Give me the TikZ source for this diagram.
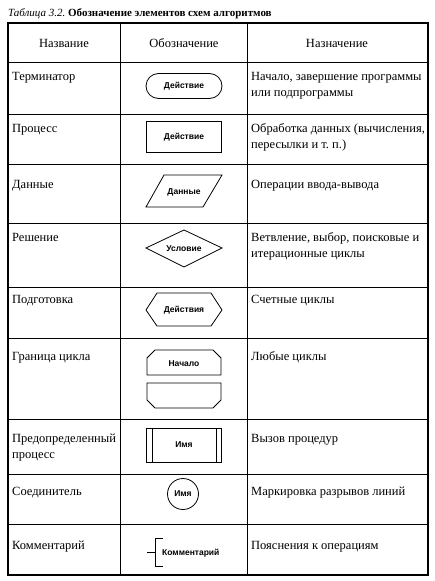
\documentclass[tikz,border=0pt]{standalone}
\usepackage{fontspec}
\setmainfont{Liberation Serif}
\newfontfamily\labfont{Liberation Sans}
\frenchspacing
\begin{document}
\begin{tikzpicture}[x=1pt,y=-1pt,
  gridline/.style={line width=0.7pt},
  framebox/.style={line width=1.1pt},
  shp/.style={line width=0.8pt},
  lbl/.style={font=\labfont\bfseries\fontsize{8.5}{10}\selectfont, inner sep=1pt},
  txt/.style={font=\fontsize{12.5}{16}\selectfont, anchor=base west, align=left, inner sep=0pt},
  hdr/.style={font=\fontsize{12.5}{14}\selectfont, anchor=base, inner sep=0pt}]
\useasboundingbox (0,0) rectangle (434,581);
\fill[white] (0,0) rectangle (434,581);
% title
\node[anchor=base west, inner sep=0pt, font=\fontsize{11}{13}\selectfont] (title) at (8,16)
  {\textit{Таблица 3.2.} \textbf{Обозначение элементов схем алгоритмов}};
% table grid
\draw[framebox] (8,23) rectangle (428,575);
\draw[gridline] (120,23) -- (120,575);
\draw[gridline] (247,23) -- (247,575);
\foreach \yy in {62,114,164,223,287,338,419,474,524}
  \draw[gridline] (8,\yy) -- (428,\yy);
% header
\node[hdr] (h1) at (64,47) {Название};
\node[hdr] (h2) at (184,47) {Обозначение};
\node[hdr] (h3) at (337,47) {Назначение};
% left column
\node[txt] (n1) at (12,80) {Терминатор};
\node[txt] (n2) at (12,132) {Процесс};
\node[txt] (n3) at (12,188) {Данные};
\node[txt] (n4) at (12,241) {Решение};
\node[txt] (n5) at (12,303) {Подготовка};
\node[txt] (n6) at (12,360) {Граница цикла};
\node[txt] (n7) at (12,458) {Предопределенный\\процесс};
\node[txt] (n8) at (12,495) {Соединитель};
\node[txt] (n9) at (12,549) {Комментарий};
% right column
\node[txt] (d1) at (251,96) {Начало, завершение программы\\или подпрограммы};
\node[txt] (d2) at (251,148) {Обработка данных (вычисления,\\пересылки и т. п.)};
\node[txt] (d3) at (251,188) {Операции ввода-вывода};
\node[txt] (d4) at (251,257) {Ветвление, выбор, поисковые и\\итерационные циклы};
\node[txt] (d5) at (251,303) {Счетные циклы};
\node[txt] (d6) at (251,360) {Любые циклы};
\node[txt] (d7) at (251,442) {Вызов процедур};
\node[txt] (d8) at (251,495) {Маркировка разрывов линий};
\node[txt] (d9) at (251,549) {Пояснения к операциям};
% shapes
\node[draw, shp, lbl, rounded corners=12.5pt, minimum width=76pt, minimum height=25pt] (term) at (184,86) {Действие};
\node[draw, shp, lbl, minimum width=75pt, minimum height=31pt] (proc) at (184,137) {Действие};
\draw[shp] (164,175) -- (222,175) -- (203,207) -- (146,207) -- cycle;
\node[lbl] (data) at (184,192) {Данные};
\draw[shp] (146,248) -- (184,230) -- (222,248) -- (184,267) -- cycle;
\node[lbl] (cond) at (184,249) {Условие};
\draw[shp] (146,310) -- (157,293) -- (211,293) -- (222,310) -- (211,326) -- (157,326) -- cycle;
\node[lbl] (prep) at (184,310) {Действия};
\draw[shp] (147,375) -- (147,358) -- (155,350) -- (213,350) -- (221,358) -- (221,375) -- cycle;
\node[lbl] (loopb) at (184,364) {Начало};
\draw[shp] (147,383) -- (221,383) -- (221,400) -- (213,408) -- (155,408) -- (147,400) -- cycle;
\node[draw, shp, lbl, minimum width=75pt, minimum height=34pt] (pred) at (184,445) {Имя};
\draw[shp] (152,428) -- (152,462);
\draw[shp] (216,428) -- (216,462);
\node[draw, shp, lbl, circle, minimum size=31pt, inner sep=0pt] (conn) at (183,494) {Имя};
\coordinate (cm) at (155,552);
\coordinate (cl) at (147,552);
\draw[shp] (163,538) -- (155,538) -- (155,566) -- (163,566);
\draw[shp] (cl) -- (cm);
\node[lbl, anchor=west] (comm) at (161,553) {Комментарий};
\end{tikzpicture}
\end{document}
